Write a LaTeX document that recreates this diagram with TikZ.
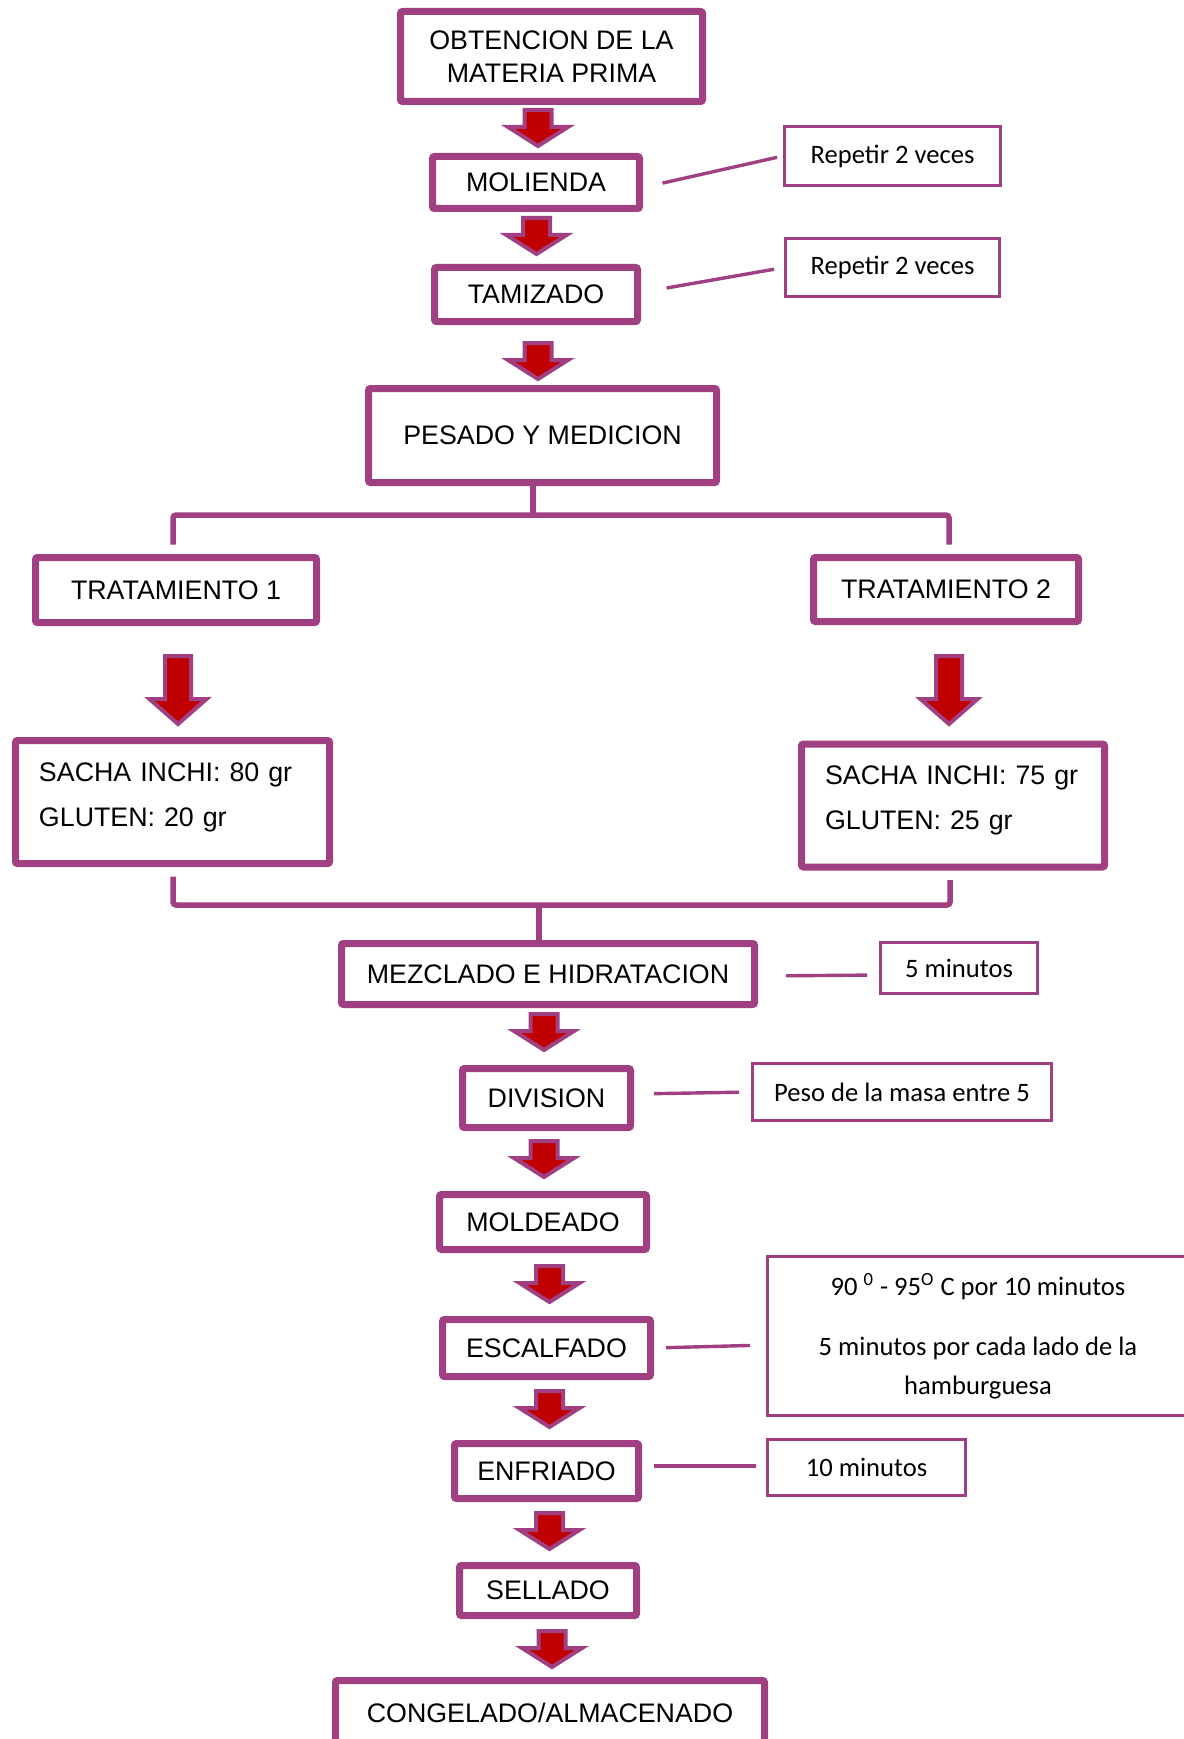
\documentclass[tikz,border=0pt]{standalone}
\usepackage{fontspec}
\setmainfont{Liberation Sans}
\newfontfamily\calibri{Carlito}
\usetikzlibrary{calc}

\definecolor{morado}{RGB}{160,64,130}
\definecolor{rojo}{RGB}{192,0,0}

\tikzset{
  paso/.style={draw=morado, line width=3.5pt, rounded corners=1pt, align=center, inner sep=0pt,
               font=\fontsize{13.4}{16.5}\selectfont},
  pasoizq/.style={paso, align=left, inner xsep=11.75pt, inner ysep=0pt, text height=20.25pt, text depth=41.25pt,
               font=\fontsize{13.4}{22.5}\selectfont},
  nota/.style={draw=morado, line width=1.5pt, align=center, inner sep=0pt,
               font=\calibri\fontsize{13.3}{19.5}\selectfont},
  linea/.style={draw=morado, line width=1.7pt},
  rama/.style={draw=morado, line width=2.75pt, rounded corners=1.5pt},
  flecha/.pic={
    \filldraw[fill=rojo, draw=morado, line width=2pt]
      (-13.5,2) -- (13.5,2) -- (13.5,19) -- (30,19) -- (0,38) -- (-30,19) -- (-13.5,19) -- cycle;
  },
  flechagrande/.pic={
    \filldraw[fill=rojo, draw=morado, line width=2pt]
      (-13,2) -- (13,2) -- (13,45) -- (28.5,45) -- (0,70) -- (-28.5,45) -- (-13,45) -- cycle;
  }
}

\begin{document}
\begin{tikzpicture}[x=0.5pt, y=-0.5pt]

\useasboundingbox (0,0) rectangle (1183,1739);

% pasos principales
\node[paso, minimum width=151pt, minimum height=45pt] (obtencion) at (551.5,56.5) {OBTENCION DE LA\\MATERIA PRIMA};
\node[paso, minimum width=103.5pt, minimum height=26pt] (molienda) at (536,182.5) {MOLIENDA};
\node[paso, minimum width=101.5pt, minimum height=27pt] (tamizado) at (536,294.5) {TAMIZADO};
\node[paso, minimum width=174pt, minimum height=47pt] (pesado) at (542.5,435.5) {PESADO Y MEDICION};

\node[paso, minimum width=140.5pt, minimum height=32.5pt] (trat1) at (176,590) {TRATAMIENTO 1};
\node[paso, minimum width=132.5pt, minimum height=32pt] (trat2) at (946,589.5) {TRATAMIENTO 2};
\node[pasoizq, text width=133.5pt] (sacha1) at (172.5,802) {SACHA INCHI: 80 gr\\GLUTEN: 20 gr};
\node[pasoizq, text width=128pt] (sacha2) at (953,805.5) {SACHA INCHI: 75 gr\\GLUTEN: 25 gr};

\node[paso, minimum width=206.5pt, minimum height=30.5pt] (mezclado) at (548,974) {MEZCLADO E HIDRATACION};
\node[paso, minimum width=84pt, minimum height=29.5pt] (division) at (546.5,1098) {DIVISION};
\node[paso, minimum width=103.5pt, minimum height=27.5pt] (moldeado) at (543,1222) {MOLDEADO};
\node[paso, minimum width=104pt, minimum height=28.5pt] (escalfado) at (546.5,1348) {ESCALFADO};
\node[paso, minimum width=92pt, minimum height=27.5pt] (enfriado) at (546.5,1471) {ENFRIADO};
\node[paso, minimum width=88.5pt, minimum height=25pt] (sellado) at (548,1590.5) {SELLADO};
\node[paso, minimum width=214.5pt, minimum height=32.5pt] (congelado) at (550,1713) {CONGELADO/ALMACENADO};

% notas al costado
\node[nota, minimum width=108pt, minimum height=29.5pt] (rep1) at (892.5,156) {Repetir 2 veces};
\node[nota, minimum width=107pt, minimum height=29pt] (rep2) at (892.5,267.5) {Repetir 2 veces};
\node[nota, minimum width=78.5pt, minimum height=25.5pt] (min5) at (959,968) {5 minutos};
\node[nota, minimum width=149.5pt, minimum height=28.5pt] (peso) at (902,1092) {Peso de la masa entre 5};
\node[nota, minimum width=210.5pt, minimum height=79.5pt] (temp) at (978,1336)
  {90 \textsuperscript{0} - 95\textsuperscript{O} C por 10 minutos\\[10.5pt]5 minutos por cada lado de la\\hamburguesa};
\node[nota, minimum width=99pt, minimum height=28pt] (min10) at (866.5,1467.5) {10 minutos};

\draw[linea, shorten <=10pt, shorten >=3pt] ([yshift=-2.5pt]molienda.east) -- (rep1.west);
\draw[linea, shorten <=13pt, shorten >=5pt] ([yshift=1pt]tamizado.east) -- (rep2.west);
\draw[linea, shorten <=14pt, shorten >=6pt] ([yshift=-1pt]mezclado.east) -- ([yshift=-3.5pt]min5.west);
\draw[linea, shorten <=10pt, shorten >=6pt] ([yshift=2pt]division.east) -- (peso.west);
\draw[linea, shorten <=6pt, shorten >=8pt] (escalfado.east) -- ([yshift=-4.5pt]temp.west);
\draw[linea, shorten <=6pt, shorten >=5pt] ([yshift=2.5pt]enfriado.east) -- ([yshift=0.75pt]min10.west);

% ramas
\coordinate (sep) at (533,515);
\draw[rama] (pesado.south -| sep) -- (sep);
\draw[rama] ([shift={(-1.5pt,4.75pt)}]trat1.north) |- (sep) -| ([shift={(1.5pt,4.75pt)}]trat2.north);

\coordinate (union) at (539,905);
\draw[rama] ([shift={(0.25pt,-4.75pt)}]sacha1.south) |- (union) -| ([shift={(-1.5pt,-4.75pt)}]sacha2.south);
\draw[rama] (union) -- (union |- mezclado.north);

% flechas
\pic at (538,108) {flecha};
\pic at (536.5,216) {flecha};
\pic at (538,341) {flecha};
\pic at (178,654) {flechagrande};
\pic at (949,654) {flechagrande};
\pic at (544,1012) {flecha};
\pic at (544,1139) {flecha};
\pic at (549.5,1264) {flecha};
\pic at (549.5,1389) {flecha};
\pic at (549.5,1511) {flecha};
\pic at (552,1629) {flecha};

\end{tikzpicture}
\end{document}
